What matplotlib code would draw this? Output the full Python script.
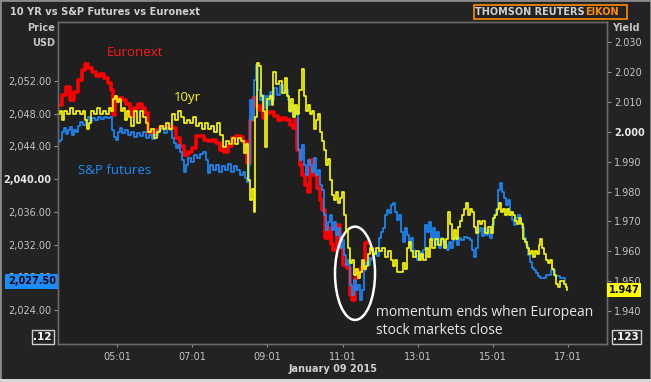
import matplotlib.pyplot as plt
from matplotlib.patches import Ellipse, Rectangle
import matplotlib.transforms as mtransforms

# minutes since midnight, 9 Jan 2015
eur_t = [206, 212, 219, 225, 231, 238, 244, 249, 254, 260,
         267, 273, 279, 286, 291, 294, 297, 302, 308, 315,
         321, 327, 334, 340, 345, 350, 356, 363, 369, 375,
         382, 388, 395, 401, 407, 414, 420, 427, 433, 439,
         446, 452, 459, 465, 471, 478, 484, 491, 497, 502,
         508, 513, 518, 523, 529, 534, 539, 545, 551, 558,
         564, 571, 577, 582, 585, 588, 593, 596, 601, 606,
         609, 614, 620, 625, 628, 633, 638, 643, 646, 652,
         657, 662, 668, 673, 676, 681, 686, 691, 694, 697,
         702]
eur_p = [2049.1, 2050.3, 2051.3, 2049.7, 2050.7, 2052.1, 2053.3, 2054.1, 2053.6, 2053.1,
         2052.6, 2052.9, 2052.4, 2051.8, 2050.9, 2047.8, 2049.7, 2049.9, 2049.7, 2049.2,
         2047.7, 2048.7, 2049.2, 2048.7, 2048.1, 2045.8, 2045.5, 2046.0, 2046.4, 2046.3,
         2046.5, 2046.3, 2045.0, 2044.1, 2043.0, 2043.3, 2043.8, 2045.3, 2045.3, 2044.8,
         2044.7, 2044.8, 2044.4, 2043.6, 2043.3, 2044.1, 2045.0, 2045.3, 2045.2, 2044.5,
         2042.0, 2047.2, 2049.9, 2048.9, 2048.5, 2047.5, 2048.1, 2048.2, 2047.7, 2047.2,
         2047.5, 2047.2, 2046.6, 2046.3, 2047.2, 2043.6, 2041.7, 2040.5, 2039.3, 2038.4,
         2042.3, 2040.5, 2038.9, 2037.5, 2036.2, 2032.8, 2034.0, 2032.1, 2031.3, 2034.4,
         2031.6, 2029.5, 2029.2, 2025.9, 2025.2, 2027.9, 2028.7, 2029.2, 2029.9, 2032.2,
         2032.3]

spx_t = [206, 209, 212, 215, 219, 222, 225, 228, 231, 235,
         238, 241, 246, 251, 254, 257, 260, 265, 270, 275,
         279, 284, 289, 292, 295, 299, 302, 305, 308, 313,
         318, 323, 327, 332, 337, 342, 347, 351, 356, 361,
         366, 371, 375, 380, 385, 388, 391, 395, 398, 401,
         404, 407, 411, 414, 419, 423, 428, 433, 438, 443,
         446, 449, 454, 459, 463, 468, 473, 478, 483, 487,
         492, 497, 502, 505, 508, 511, 513, 516, 519, 523,
         526, 529, 532, 535, 539, 542, 545, 548, 551, 556,
         561, 566, 571, 574, 577, 580, 583, 587, 590, 593,
         596, 599, 603, 606, 609, 612, 615, 619, 622, 625,
         628, 631, 635, 638, 641, 644, 647, 651, 654, 657,
         660, 663, 667, 670, 673, 676, 679, 683, 686, 689,
         692, 695, 699, 702, 705, 708, 711, 716, 719, 723,
         726, 729, 732, 735, 739, 742, 745, 748, 751, 755,
         758, 761, 764, 767, 771, 774, 777, 780, 783, 787,
         790, 793, 796, 799, 803, 806, 809, 812, 815, 819,
         822, 825, 828, 831, 835, 838, 841, 844, 847, 851,
         855, 860, 865, 868, 871, 875, 878, 881, 884, 887,
         891, 894, 897, 900, 903, 907, 910, 913, 916, 919,
         923, 926, 929, 932, 935, 939, 942, 945, 948, 951,
         955, 958, 961, 964, 967, 971, 974, 977, 987, 995,
         1001, 1009, 1017]
spx_p = [2044.5, 2044.8, 2045.8, 2046.3, 2045.5, 2046.0, 2046.4, 2045.4, 2046.0, 2045.8,
         2046.5, 2047.0, 2046.6, 2047.2, 2047.6, 2047.0, 2047.5, 2047.2, 2047.6, 2047.4,
         2047.6, 2047.5, 2047.6, 2046.0, 2045.2, 2044.8, 2045.8, 2046.3, 2045.6, 2046.0,
         2045.4, 2045.8, 2045.2, 2045.6, 2045.3, 2045.8, 2045.0, 2045.4, 2044.9, 2045.4,
         2046.0, 2046.3, 2045.6, 2046.3, 2046.0, 2045.0, 2044.4, 2043.8, 2044.2, 2043.3,
         2042.3, 2040.9, 2041.7, 2042.6, 2042.1, 2043.0, 2042.6, 2043.1, 2043.3, 2042.3,
         2040.8, 2041.7, 2041.1, 2041.7, 2040.9, 2041.6, 2041.1, 2041.9, 2040.9, 2041.6,
         2041.1, 2040.5, 2040.9, 2040.2, 2039.7, 2041.7, 2049.7, 2047.2, 2052.1, 2054.0,
         2050.9, 2049.7, 2050.3, 2048.7, 2050.2, 2049.1, 2050.7, 2049.7, 2051.1, 2050.3,
         2051.5, 2050.7, 2050.9, 2049.7, 2048.2, 2049.1, 2047.8, 2048.7, 2043.6, 2042.3,
         2044.2, 2041.7, 2040.5, 2042.3, 2041.7, 2040.9, 2042.6, 2040.5, 2041.1, 2039.3,
         2038.7, 2035.6, 2033.8, 2034.8, 2035.6, 2033.8, 2034.8, 2033.2, 2034.0, 2031.6,
         2032.6, 2030.7, 2029.5, 2030.1, 2027.1, 2025.9, 2027.7, 2026.5, 2027.1, 2025.2,
         2026.5, 2028.9, 2029.9, 2029.5, 2030.4, 2030.1, 2031.1, 2030.6, 2032.8, 2033.6,
         2034.0, 2035.6, 2036.2, 2035.9, 2036.8, 2037.1, 2036.0, 2035.0, 2035.6, 2033.6,
         2032.3, 2034.0, 2033.2, 2031.9, 2032.8, 2031.3, 2030.7, 2030.1, 2031.1, 2030.4,
         2031.3, 2034.4, 2033.6, 2034.8, 2032.6, 2034.0, 2031.9, 2033.6, 2031.6, 2032.8,
         2032.3, 2031.9, 2031.3, 2032.3, 2031.6, 2032.6, 2033.1, 2031.9, 2032.8, 2032.6,
         2032.9, 2032.8, 2032.6, 2031.3, 2030.5, 2031.6, 2033.6, 2034.0, 2033.1, 2034.0,
         2033.2, 2033.8, 2032.8, 2034.4, 2035.6, 2036.2, 2038.7, 2039.5, 2038.4, 2037.7,
         2036.8, 2037.5, 2036.0, 2035.0, 2034.4, 2035.3, 2035.6, 2034.8, 2034.0, 2032.8,
         2031.9, 2030.7, 2029.9, 2029.2, 2028.9, 2028.5, 2028.2, 2027.9, 2028.3, 2028.9,
         2028.2, 2027.9, 2027.5]

yld_t = [206, 209, 212, 215, 220, 225, 230, 235, 241, 246,
         249, 252, 255, 259, 263, 268, 273, 278, 283, 287,
         291, 294, 297, 300, 303, 307, 310, 313, 316, 319,
         323, 327, 332, 337, 342, 347, 350, 355, 359, 364,
         369, 374, 379, 383, 388, 393, 398, 403, 407, 412,
         417, 422, 427, 431, 436, 441, 446, 451, 455, 460,
         465, 470, 475, 479, 484, 489, 494, 499, 503, 507,
         510, 513, 516, 519, 521, 524, 527, 531, 534, 537,
         540, 545, 548, 550, 555, 559, 564, 569, 572, 575,
         579, 582, 585, 588, 591, 596, 599, 603, 606, 609,
         612, 615, 619, 622, 625, 628, 631, 635, 638, 641,
         644, 647, 651, 654, 657, 660, 663, 667, 670, 673,
         676, 679, 683, 686, 689, 692, 695, 699, 702, 705,
         710, 715, 719, 724, 729, 734, 739, 742, 745, 748,
         753, 758, 761, 764, 767, 771, 774, 779, 783, 787,
         790, 795, 798, 801, 804, 809, 814, 819, 823, 827,
         830, 833, 836, 839, 843, 846, 849, 852, 855, 859,
         862, 865, 868, 871, 875, 878, 881, 884, 889, 894,
         899, 902, 905, 908, 911, 915, 918, 921, 924, 927,
         931, 934, 937, 940, 943, 947, 950, 953, 956, 959,
         963, 966, 969, 972, 975, 977, 980, 983, 987, 990,
         993, 996, 999, 1003, 1006, 1009, 1012, 1015, 1019, 1020]
yld_y = [2.006, 2.007, 2.004, 2.007, 2.006, 2.008, 2.006, 2.007, 2.006, 2.007,
         2.004, 2.001, 2.003, 2.007, 2.006, 2.008, 2.006, 2.007, 2.006, 2.008,
         2.007, 2.011, 2.012, 2.010, 2.011, 2.007, 2.008, 2.004, 2.007, 2.005,
         2.002, 2.007, 2.003, 2.007, 2.005, 2.003, 2.000, 2.001, 1.998, 2.000,
         2.002, 2.001, 2.003, 2.001, 2.006, 2.004, 2.007, 2.005, 2.003, 2.004,
         2.003, 2.005, 2.002, 2.003, 2.001, 2.003, 2.001, 2.002, 2.000, 2.003,
         1.999, 1.995, 1.997, 1.996, 1.998, 1.996, 1.998, 1.997, 1.993, 1.996,
         1.984, 1.977, 1.981, 1.973, 2.005, 2.023, 2.022, 2.012, 2.007, 1.995,
         2.011, 2.012, 2.009, 2.020, 2.016, 2.017, 2.013, 2.018, 2.012, 2.007,
         2.011, 2.005, 2.009, 2.006, 2.014, 2.021, 2.012, 2.007, 2.009, 2.006,
         2.007, 2.001, 2.004, 2.006, 2.000, 1.997, 1.994, 1.989, 1.991, 1.984,
         1.979, 1.977, 1.980, 1.976, 1.978, 1.980, 1.972, 1.967, 1.961, 1.956,
         1.957, 1.952, 1.954, 1.951, 1.953, 1.957, 1.954, 1.955, 1.959, 1.961,
         1.959, 1.961, 1.960, 1.961, 1.958, 1.960, 1.957, 1.955, 1.957, 1.953,
         1.953, 1.956, 1.954, 1.961, 1.963, 1.960, 1.958, 1.960, 1.957, 1.959,
         1.957, 1.961, 1.958, 1.964, 1.961, 1.964, 1.962, 1.964, 1.961, 1.964,
         1.973, 1.969, 1.964, 1.967, 1.964, 1.968, 1.970, 1.972, 1.974, 1.976,
         1.972, 1.974, 1.973, 1.968, 1.966, 1.970, 1.969, 1.970, 1.966, 1.968,
         1.966, 1.971, 1.972, 1.974, 1.976, 1.973, 1.974, 1.972, 1.974, 1.972,
         1.973, 1.972, 1.970, 1.969, 1.971, 1.969, 1.964, 1.963, 1.961, 1.959,
         1.960, 1.958, 1.960, 1.959, 1.962, 1.964, 1.961, 1.959, 1.957, 1.956,
         1.957, 1.954, 1.952, 1.949, 1.948, 1.950, 1.950, 1.949, 1.948, 1.947]

x_ticks = [301, 421, 541, 661, 781, 901, 1021]
x_labels = ["05:01", "07:01", "09:01", "11:01", "13:01", "15:01", "17:01"]
price_ticks = [2024, 2028, 2032, 2036, 2040, 2044, 2048, 2052]
yield_ticks = [1.94, 1.95, 1.96, 1.97, 1.98, 1.99, 2.00, 2.01, 2.02, 2.03]

W, H = 651, 382
BG = '#232323'
TXT = '#c4c4c4'


def fx(px):
    return px / W


def fy(py):
    return 1 - py / H


fig = plt.figure(figsize=(W / 100, H / 100), dpi=100)
fig.patch.set_facecolor(BG)

ax = fig.add_axes([fx(58), fy(344), 549 / W, 322 / H])
ax.set_facecolor('#1f1f1f')
ax2 = ax.twinx()
ax2.patch.set_visible(False)

ax.plot(eur_t, eur_p, color='#ff0000', lw=2.6, drawstyle='steps-post', zorder=2)
ax.plot(spx_t, spx_p, color='#1a8cff', lw=1.2, drawstyle='steps-post', zorder=3)
ax2.plot(yld_t, yld_y, color='#ffff00', lw=1.2, drawstyle='steps-post')

ax.set_xlim(206, 1084)
ax.set_ylim(2019.86, 2059.21)
ax2.set_ylim(1.929, 2.0367)

ax.set_xticks(x_ticks)
ax.set_xticklabels(x_labels)
ax.set_yticks(price_ticks)
ax.set_yticklabels([f"{v:,.2f}" for v in price_ticks])
ax2.set_yticks(yield_ticks)
ax2.set_yticklabels([f"{v:.3f}" for v in yield_ticks])

ax.tick_params(axis='x', colors='#909090', labelcolor=TXT, length=2, labelsize=7, pad=4)
ax.tick_params(axis='y', colors='#909090', labelcolor=TXT, length=3, labelsize=7, pad=2)
ax2.tick_params(axis='y', colors='#909090', labelcolor=TXT, length=3, labelsize=7, pad=2)
for lbl in ax.get_yticklabels():
    if lbl.get_text() == "2,040.00":
        lbl.set_fontweight('bold')
        lbl.set_color('#e8e8e8')
for lbl in ax2.get_yticklabels():
    if lbl.get_text() == "2.000":
        lbl.set_fontweight('bold')
        lbl.set_color('#e8e8e8')

for a in (ax, ax2):
    for s in a.spines.values():
        s.set_color('#6a6a6a')
        s.set_linewidth(1)

# last value boxes
trL = mtransforms.blended_transform_factory(ax.transAxes, ax.transData)
ax.text(-0.004, spx_p[-1], f"{spx_p[-1]:,.2f}", transform=trL, ha='right', va='center',
        fontsize=7, fontweight='bold', color='black', zorder=10, clip_on=False,
        bbox=dict(boxstyle='square,pad=0.25', fc='#1a8cff', ec='none'))
trR = mtransforms.blended_transform_factory(ax2.transAxes, ax2.transData)
ax2.text(1.003, yld_y[-1], f"{yld_y[-1]:.3f}", transform=trR, ha='left', va='center',
         fontsize=7, fontweight='bold', color='black', zorder=10, clip_on=False,
         bbox=dict(boxstyle='square,pad=0.2', fc='#ffff00', ec='none'))

# series labels and comment
ann = ['Open Sans', 'DejaVu Sans']
fig.text(fx(107), fy(53), "Euronext", color='#ff1a1a', fontsize=9.5, family=ann, va='center')
fig.text(fx(174), fy(98), "10yr", color='#ffff00', fontsize=9.5, family=ann, va='center')
fig.text(fx(78), fy(170), "S&P futures", color='#1a8cff', fontsize=9.5, family=ann, va='center')
fig.text(fx(376), fy(312), "momentum ends when European", color='#e6e6e6', fontsize=10,
         family=ann, va='center')
fig.text(fx(376), fy(331), "stock markets close", color='#e6e6e6', fontsize=10,
         family=ann, va='center')
ax.add_patch(Ellipse((681, 2028.5), 64, 11.4, fill=False, ec='white', lw=1.8, zorder=6))

# frame texts
fig.text(fx(10), fy(12), "10 YR vs S&P Futures vs Euronext", color='#d0d0d0', fontsize=7.1,
         fontweight='bold', va='center')
fig.text(fx(55), fy(28), "Price", color=TXT, fontsize=7, fontweight='bold', ha='right', va='center')
fig.text(fx(55), fy(43), "USD", color=TXT, fontsize=7, fontweight='bold', ha='right', va='center')
fig.text(fx(612), fy(28), "Yield", color=TXT, fontsize=7, fontweight='bold', ha='left', va='center')
fig.text(fx(333), fy(369), "January 09 2015", color='#d0d0d0', fontsize=7, fontweight='bold',
         ha='center', va='center')

fig.text(fx(52), fy(337), ".12", color='white', fontsize=7.5, fontweight='bold', ha='right',
         va='center', bbox=dict(boxstyle='square,pad=0.15', fc='none', ec='#cfcfcf', lw=1))
fig.text(fx(639), fy(337), ".123", color='white', fontsize=7.5, fontweight='bold', ha='right',
         va='center', bbox=dict(boxstyle='square,pad=0.15', fc='none', ec='#cfcfcf', lw=1))

# brand box
fig.patches.append(Rectangle((fx(474), fy(19)), 153 / W, 14 / H, transform=fig.transFigure,
                             fill=False, ec='#ff8c00', lw=1.2))
fig.text(fx(585), fy(12), "THOMSON REUTERS", color='#d0d0d0', fontsize=7, fontweight='bold',
         ha='right', va='center')
fig.text(fx(619), fy(12), "EIKON", color='#ff8c00', fontsize=7, fontweight='bold',
         ha='right', va='center')

fig.patches.append(Rectangle((0, 0), 1, 1, transform=fig.transFigure, fill=False,
                             ec='#8a8a8a', lw=2))
fig.patches.append(Rectangle((0, 0), 1, 3 / H, transform=fig.transFigure,
                             fc='#d6d6d6', ec='none'))

fig.savefig('out.png', dpi=100, facecolor=fig.get_facecolor())
